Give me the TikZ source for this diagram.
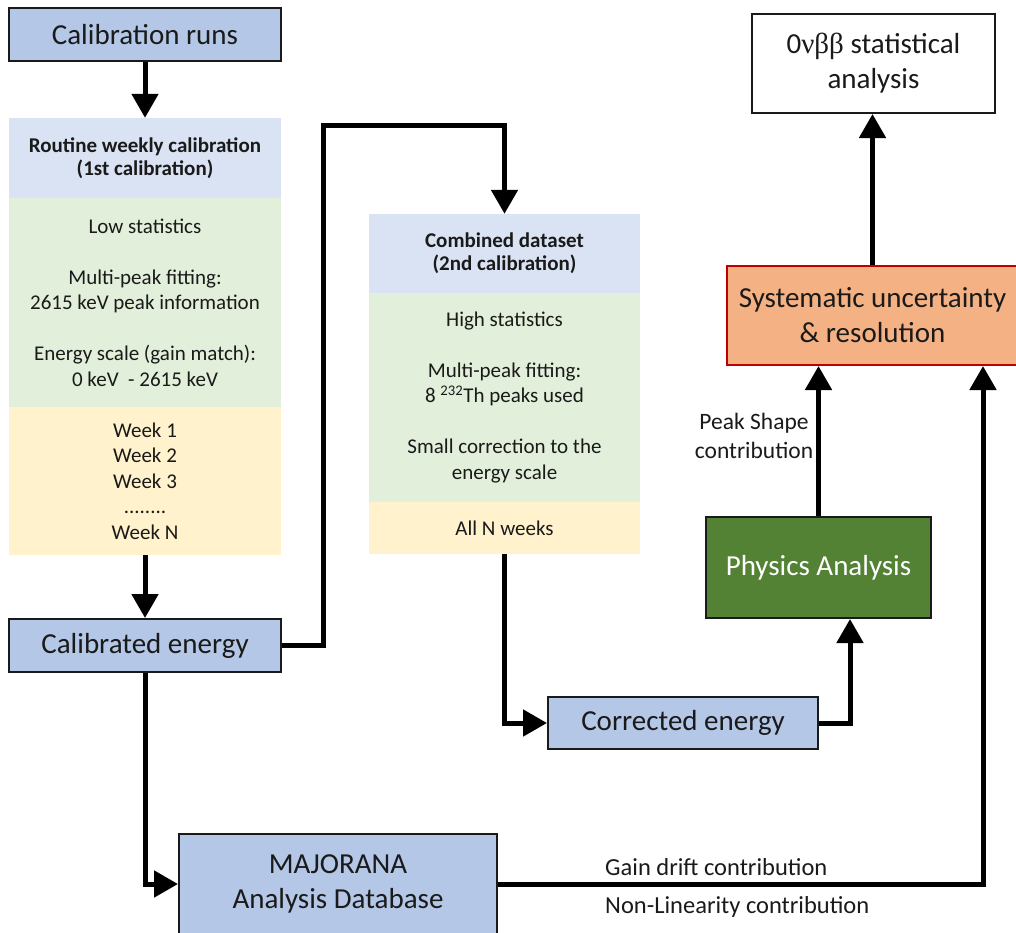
\documentclass[tikz,border=0pt]{standalone}
\usepackage{fontspec}
\setmainfont{Carlito}
\newfontfamily\grkfont{Liberation Serif}
\usetikzlibrary{arrows.meta}
\definecolor{boxblue}{HTML}{B4C7E7}
\definecolor{headblue}{HTML}{DAE3F3}
\definecolor{panelgreen}{HTML}{E2EFDA}
\definecolor{panelyellow}{HTML}{FFF2CC}
\definecolor{sysorange}{HTML}{F4B183}
\definecolor{sysred}{HTML}{C00000}
\definecolor{physgreen}{HTML}{548235}
\definecolor{ink}{HTML}{1A1A1A}
\begin{document}
\begin{tikzpicture}[x=1pt,y=-1pt,
  conn/.style={line width=5pt, draw=black, -{Triangle[width=26pt,length=24pt]}},
  bigbox/.style={draw=ink, line width=2pt, fill=boxblue, inner sep=0pt, align=center, text=ink,
    font=\fontsize{29}{35}\selectfont},
  panel/.style={inner sep=0pt, align=center, text=ink, font=\fontsize{21}{25.5}\selectfont},
  headpanel/.style={panel, fill=headblue, font=\bfseries\fontsize{21}{23}\selectfont},
  greenpanel/.style={panel, fill=panelgreen},
  yellowpanel/.style={panel, fill=panelyellow},
  lbl/.style={inner sep=0pt, align=center, text=ink, font=\fontsize{23.5}{29}\selectfont},
  widelbl/.style={lbl, font=\fontsize{24.5}{29}\selectfont}
]
\useasboundingbox (0,0) rectangle (1016,932);
\fill[white] (0,0) rectangle (1016,932);

% left column
\node[bigbox, minimum width=272pt, minimum height=53pt] (calruns) at (145,34.5) {Calibration runs};
\node[headpanel, minimum width=272pt, minimum height=80pt] (rhead) at (145,158) {Routine weekly calibration\\(1st calibration)};
\node[greenpanel, minimum width=272pt, minimum height=209pt] (rgreen) at (145,302.5)
  {Low statistics\\[25.5pt]Multi-peak fitting:\\2615 keV peak information\\[25.5pt]Energy scale (gain match):\\0 keV\ \ - 2615 keV};
\node[yellowpanel, minimum width=272pt, minimum height=148pt] (ryellow) at (145,481)
  {Week 1\\Week 2\\Week 3\\........\\Week N};
\node[bigbox, minimum width=272pt, minimum height=53pt] (calib) at (145,645.5) {Calibrated energy};
\node[bigbox, minimum width=318pt, minimum height=100pt] (mjd) at (338,884) {MAJORANA\\Analysis Database};

% middle column
\node[headpanel, minimum width=271pt, minimum height=79pt] (chead) at (504.5,253.5) {Combined dataset\\(2nd calibration)};
\node[greenpanel, minimum width=271pt, minimum height=209pt] (cgreen) at (504.5,397.5)
  {High statistics\\[25.5pt]Multi-peak fitting:\\8 \textsuperscript{232}Th peaks used\\[25.5pt]Small correction to the\\energy scale};
\node[yellowpanel, minimum width=271pt, minimum height=52pt] (cyellow) at (504.5,528) {All N weeks};
\node[bigbox, minimum width=270pt, minimum height=52pt] (corr) at (683,723) {Corrected energy};

% right column
\node[bigbox, fill=physgreen, text=white, minimum width=225pt, minimum height=101pt] (phys) at (818.5,567.5) {Physics Analysis};
\node[bigbox, fill=sysorange, draw=sysred, minimum width=291pt, minimum height=99pt] (sys) at (872.5,315.5) {Systematic uncertainty\\\&\ resolution};
\node[bigbox, fill=white, minimum width=243pt, minimum height=99pt] (zero) at (873.5,63.5) {0{\grkfont νββ} statistical\\analysis};

% coordinates for free bends
\coordinate (bendA) at (323,125);
\coordinate (bendB) at (850,0);
\coordinate (bendC) at (983,0);

% connectors
\draw[conn] (calruns.south) -- (rhead.north);
\draw[conn] (ryellow.south) -- (calib.north);
\draw[conn] (calib.east) -| (bendA) -| (chead.north);
\draw[conn] (cyellow.south) |- (corr.west);
\draw[conn] (corr.east) -| (phys.south -| bendB);
\draw[conn] (phys.north) -- (phys.north |- sys.south);
\draw[conn] (sys.north) -- (sys.north |- zero.south);
\draw[conn] (calib.south) |- (mjd.west);
\draw[conn] (mjd.east) -| (sys.south -| bendC);

% labels
\node[lbl] (peaklbl) at (754,436) {Peak Shape\\contribution};
\node[widelbl, anchor=west] (gainlbl) at (605,867) {Gain drift contribution};
\node[widelbl, anchor=west] (nonlbl) at (605,907) {Non-Linearity contribution};
\end{tikzpicture}
\end{document}
